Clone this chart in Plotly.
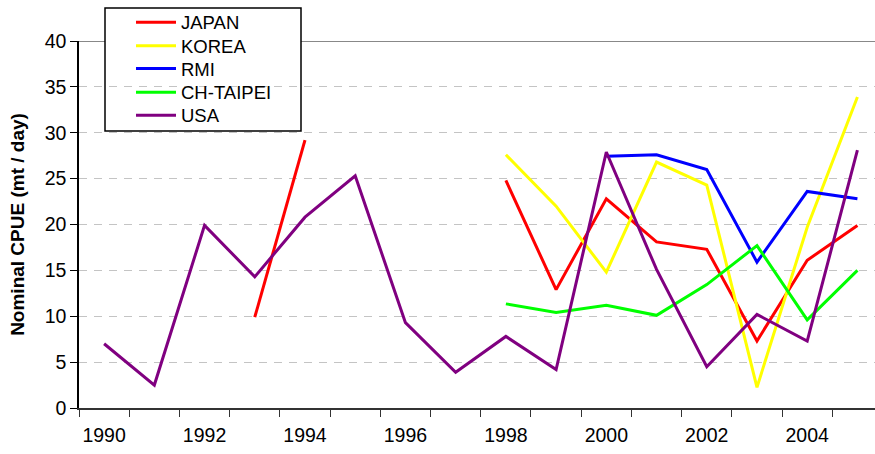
import plotly.graph_objects as go

years = list(range(1990, 2006))
japan = [None, None, None, 9.9, 29.2, None, None, None, 24.8, 12.9, 22.8, 18.1, 17.3, 7.3, 16.1, 19.9]
korea = [None, None, None, None, None, None, None, None, 27.6, 22.0, 14.8, 26.8, 24.3, 2.25, 19.7, 33.9]
rmi = [None, None, None, None, None, None, None, None, None, None, 27.45, 27.6, 26.0, 15.9, 23.6, 22.8]
taipei = [None, None, None, None, None, None, None, None, 11.35, 10.4, 11.2, 10.1, 13.45, 17.7, 9.6, 15.0]
usa = [7.0, 2.5, 19.9, 14.3, 20.8, 25.3, 9.3, 3.9, 7.8, 4.2, 27.9, 15.1, 4.5, 10.2, 7.3, 28.1]

series_names = ["JAPAN", "KOREA", "RMI", "CH-TAIPEI", "USA"]
series_vals = [japan, korea, rmi, taipei, usa]
series_colors = ["#ff0000", "#ffff00", "#0000ff", "#00ff00", "#800080"]

xtick_vals = list(range(1990, 2005, 2))
xtick_text = [str(v) for v in xtick_vals]
ytick_vals = list(range(0, 45, 5))

W, H = 875, 454
L, R, T, B = 79, 0, 41, 46
pw = W - L - R
ph = H - T - B


def px_x(px):
    return (px - L) / pw


def px_y(py):
    return (H - B - py) / ph


FONT = "Liberation Sans, Arial, sans-serif"
legend_ids = ["legend", "legend2", "legend3", "legend4", "legend5"]
legend_centers = [22.7, 46.3, 69.0, 92.7, 115.7]

fig = go.Figure()
for name, vals, col, lid in zip(series_names, series_vals, series_colors, legend_ids):
    fig.add_trace(go.Scatter(
        x=years, y=vals, name=name, mode="lines",
        line=dict(color=col, width=3), connectgaps=False, legend=lid,
    ))

legend_layouts = {}
for lid, cy in zip(legend_ids, legend_centers):
    legend_layouts[lid] = dict(
        x=px_x(131), y=px_y(cy), xanchor="left", yanchor="middle",
        bgcolor="rgba(0,0,0,0)", borderwidth=0,
        font=dict(family=FONT, size=18.5, color="#000"),
        itemwidth=40,
    )

fig.update_layout(
    width=W, height=H,
    margin=dict(l=L, r=R, t=T, b=B, autoexpand=False),
    paper_bgcolor="white", plot_bgcolor="white",
    font=dict(family=FONT, size=19, color="#000"),
    showlegend=True,
    xaxis=dict(
        range=[1989.5, 2005.35],
        tickmode="array", tickvals=xtick_vals, ticktext=xtick_text,
        ticks="", showgrid=False, zeroline=False,
        showline=True, linecolor="#333", linewidth=1.5,
        ticklabelstandoff=9,
        tickfont=dict(family=FONT, size=19.5, color="#000"),
        minor=dict(tick0=1989.5, dtick=1, ticks="outside", ticklen=7,
                   tickwidth=1.2, tickcolor="#333", showgrid=False),
    ),
    yaxis=dict(
        range=[0, 40],
        tickmode="array", tickvals=ytick_vals,
        ticks="outside", ticklen=7, tickwidth=1.2, tickcolor="#000",
        showline=True, linecolor="#000", linewidth=1.5,
        showgrid=True, gridcolor="#c4c4c4", gridwidth=1.2, griddash="8px,7px",
        zeroline=False,
        tickfont=dict(family=FONT, size=19.5, color="#000"),
        title=dict(text="<b>Nominal CPUE (mt / day)</b>", standoff=15,
                   font=dict(family=FONT, size=19, color="#000")),
    ),
    shapes=[
        dict(type="line", xref="paper", yref="y", x0=0, x1=1, y0=40, y1=40,
             line=dict(color="#888", width=2), layer="below"),
        dict(type="rect", xref="paper", yref="paper",
             x0=px_x(105), x1=px_x(301), y0=px_y(131), y1=px_y(8),
             line=dict(color="#000", width=1.5), fillcolor="white", layer="below"),
    ],
    **legend_layouts,
)

fig.write_html("out.html", config={"displayModeBar": False},
               post_script="document.body.style.margin='0';")
